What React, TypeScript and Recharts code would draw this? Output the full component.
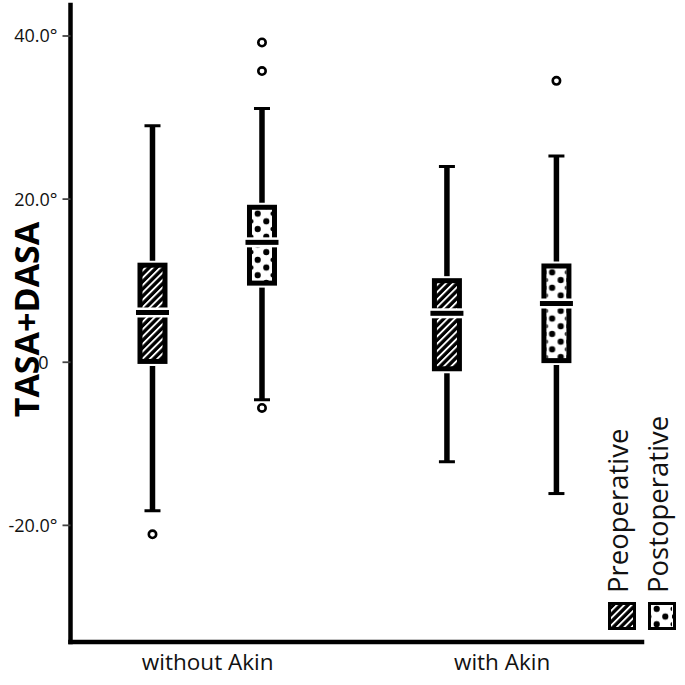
import React from 'react';
import { ComposedChart, Bar, XAxis, YAxis, Legend, Label } from 'recharts';

const categories = ['without Akin', 'with Akin'];
const seriesNames = ['Preoperative', 'Postoperative'];
const yTicks = [-20, 0, 20, 40];

const preMin = [-18.2, -12.2];
const preQ1 = [0.1, -0.8];
const preMedian = [6.1, 6.0];
const preQ3 = [11.9, 10.0];
const preMax = [29.0, 24.0];
const preOutliers = [[-21.1], []];

const postMin = [-4.6, -16.1];
const postQ1 = [9.7, 0.2];
const postMedian = [14.7, 7.2];
const postQ3 = [19.0, 11.8];
const postMax = [31.1, 25.3];
const postOutliers = [[39.2, 35.7, -5.6], [34.5]];

const data = categories.map((name, i) => ({
  name,
  pos: i + 1,
  pre: { min: preMin[i], q1: preQ1[i], median: preMedian[i], q3: preQ3[i], max: preMax[i], outliers: preOutliers[i] },
  preRange: [preMin[i], preMax[i]],
  post: { min: postMin[i], q1: postQ1[i], median: postMedian[i], q3: postQ3[i], max: postMax[i], outliers: postOutliers[i] },
  postRange: [postMin[i], postMax[i]],
}));

const FONT = '"Open Sans", "DejaVu Sans", sans-serif';

const HatchPattern = ({ id }: { id: string }) => (
  <pattern id={id} patternUnits="userSpaceOnUse" width={5.2} height={5.2} patternTransform="rotate(45)">
    <rect width={5.2} height={5.2} fill="#000" />
    <rect x={0} width={1.9} height={5.2} fill="#fff" />
  </pattern>
);

const DotPattern = ({ id, x, y, w }: { id: string; x: number; y: number; w: number }) => {
  const h = 15.4;
  const a = w / 2 - 4.3;
  const b = w / 2 + 4.3;
  return (
    <pattern id={id} patternUnits="userSpaceOnUse" x={x} y={y} width={w} height={h}>
      <rect width={w} height={h} fill="#fff" />
      <circle cx={a} cy={3.85} r={3.1} fill="#000" />
      <circle cx={b} cy={11.55} r={3.1} fill="#000" />
      <circle cx={-0.6} cy={11.55} r={2.2} fill="#000" />
      <circle cx={w + 0.6} cy={3.85} r={2.2} fill="#000" />
    </pattern>
  );
};

const makeBoxShape = (key: 'pre' | 'post') => (props: any) => {
  const { x, y, width, height, payload, index } = props;
  const s = (payload && payload[key]) || data[index][key];
  const top = height >= 0 ? y : y + height;
  const h = Math.abs(height);
  const k = h / (s.max - s.min);
  const yOf = (v: number) => top + (s.max - v) * k;
  const cx = x + width / 2;
  const boxTop = yOf(s.q3);
  const boxBot = yOf(s.q1);
  const med = yOf(s.median);
  const sw = 5;
  const rx = x + sw / 2;
  const rw = width - sw;
  const pid = `${key}-pat-${index}`;
  return (
    <g>
      <defs>
        {key === 'pre' ? (
          <HatchPattern id={pid} />
        ) : (
          <DotPattern id={pid} x={x + sw} y={boxTop + sw / 2} w={width - 2 * sw} />
        )}
      </defs>
      <line x1={cx} x2={cx} y1={yOf(s.max)} y2={boxTop - 4.5} stroke="#000" strokeWidth={5.5} />
      <line x1={cx - 8} x2={cx + 8} y1={yOf(s.max)} y2={yOf(s.max)} stroke="#000" strokeWidth={3} />
      <line x1={cx} x2={cx} y1={boxBot + 4.5} y2={yOf(s.min)} stroke="#000" strokeWidth={5.5} />
      <line x1={cx - 8} x2={cx + 8} y1={yOf(s.min)} y2={yOf(s.min)} stroke="#000" strokeWidth={3} />
      <rect x={rx} y={boxTop} width={rw} height={boxBot - boxTop} fill={`url(#${pid})`} stroke="#000" strokeWidth={sw} />
      <rect x={x - 3} y={med - 5} width={width + 6} height={10} fill="#fff" />
      <rect x={x - 1.5} y={med - 2.5} width={width + 3} height={5} fill="#000" />
      {s.outliers.map((o: number, j: number) => (
        <circle key={j} cx={cx} cy={yOf(o)} r={3.7} fill="#fff" stroke="#000" strokeWidth={2.6} />
      ))}
    </g>
  );
};

const renderLegend = (props: any) => {
  const payload = (props && props.payload) || [];
  const entries = seriesNames.map((n) => payload.find((p: any) => p.value === n) || { value: n });
  return (
    <svg width={85} height={240} style={{ display: 'block', overflow: 'visible' }}>
      <defs>
        <HatchPattern id="legend-hatch" />
        <DotPattern id="legend-dots" x={50} y={205} w={22} />
      </defs>
      {entries.map((p: any, i: number) => {
        const bx = 8 + i * 40;
        return (
          <g key={i}>
            <text
              x={bx + 20}
              y={193}
              transform={`rotate(-90, ${bx + 20}, 193)`}
              fontSize={27.5}
              fontFamily={FONT}
              fill="#111"
              textAnchor="start"
            >
              {p.value}
            </text>
            <rect
              x={bx + 1.5}
              y={203.5}
              width={25}
              height={25}
              fill={i === 0 ? 'url(#legend-hatch)' : 'url(#legend-dots)'}
              stroke="#000"
              strokeWidth={3}
            />
          </g>
        );
      })}
    </svg>
  );
};

const yFmt = (v: number) => (v === 0 ? '0\u2002' : `${v.toFixed(1)}°`);

export default function App() {
  return (
    <div style={{ position: 'absolute', left: 0, top: 0, background: '#fff' }}>
      <ComposedChart
        width={685}
        height={685}
        data={data}
        margin={{ top: 5, right: 43, left: 0, bottom: 0 }}
        barGap={79.5}
      >
        <XAxis
          type="number"
          dataKey="pos"
          domain={[0.534, 2.475]}
          allowDataOverflow
          ticks={[1, 2]}
          tickFormatter={(v: number) => categories[v - 1] ?? ''}
          tickLine={false}
          tickSize={8}
          tickMargin={4}
          height={43}
          axisLine={{ stroke: '#000', strokeWidth: 4.5, strokeLinecap: 'square' }}
          tick={{ fontSize: 22.5, fill: '#111', fontFamily: FONT }}
        />
        <YAxis
          type="number"
          domain={[-34.3, 43.8]}
          allowDataOverflow
          ticks={yTicks}
          tickFormatter={yFmt}
          width={70.5}
          tickSize={8}
          tickMargin={5}
          axisLine={{ stroke: '#000', strokeWidth: 4.5, strokeLinecap: 'square' }}
          tickLine={{ stroke: '#444', strokeWidth: 1.8 }}
          tick={{ fontSize: 18, fill: '#111', fontFamily: FONT }}
        >
          <Label
            value="TASA+DASA"
            content={(p: any) => {
              const vb = p.viewBox || { x: 0, y: 5, width: 70, height: 637 };
              const lx = vb.x + 26;
              const ly = vb.y + vb.height / 2 - 4;
              return (
                <text
                  x={lx}
                  y={ly}
                  transform={`rotate(-90, ${lx}, ${ly})`}
                  textAnchor="middle"
                  dominantBaseline="central"
                  fontSize={34}
                  fontWeight="bold"
                  fontFamily={FONT}
                  fill="#000"
                >
                  {p.value ?? 'TASA+DASA'}
                </text>
              );
            }}
          />
        </YAxis>
        <Legend
          layout="horizontal"
          verticalAlign="middle"
          align="center"
          content={renderLegend}
          wrapperStyle={{ position: 'absolute', left: 600, top: 400, width: 85, height: 240 }}
        />
        <Bar
          name={seriesNames[0]}
          dataKey="preRange"
          barSize={30}
          fill="#000"
          isAnimationActive={false}
          shape={makeBoxShape('pre')}
        />
        <Bar
          name={seriesNames[1]}
          dataKey="postRange"
          barSize={30}
          fill="#000"
          isAnimationActive={false}
          shape={makeBoxShape('post')}
        />
      </ComposedChart>
    </div>
  );
}
